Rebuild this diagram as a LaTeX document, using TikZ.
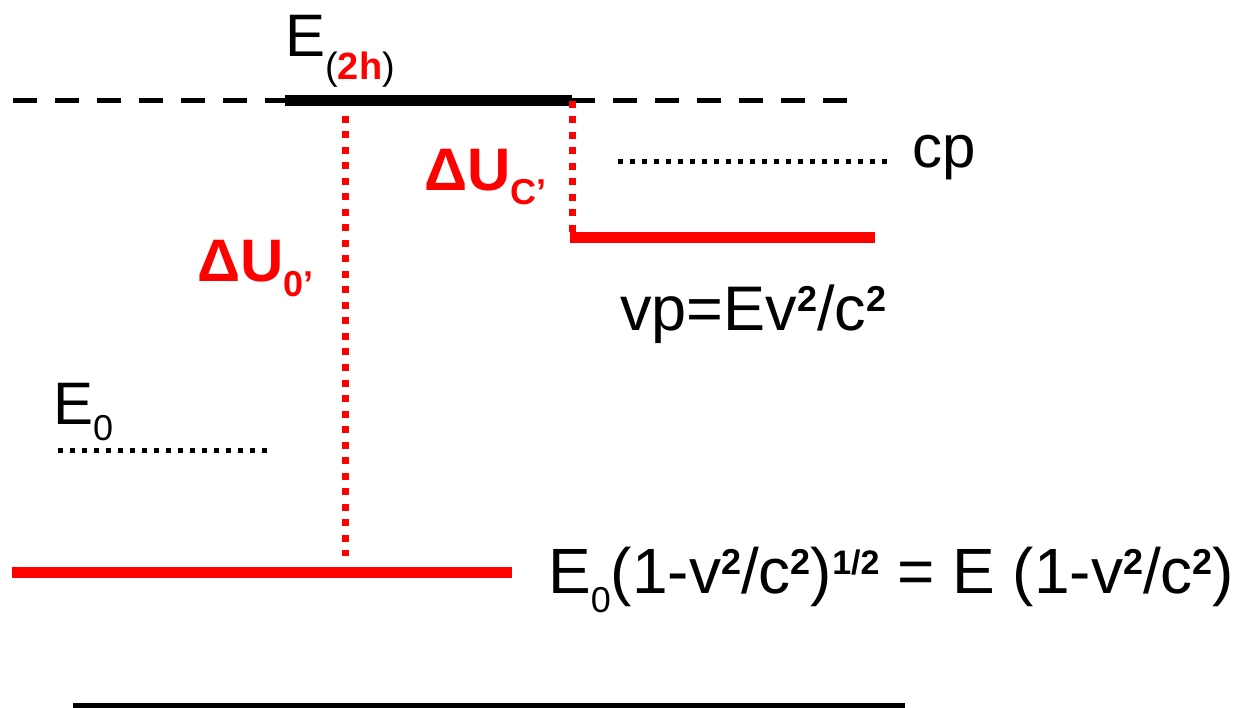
\documentclass[tikz,border=0pt]{standalone}
\usepackage{fontspec}
\setmainfont{Liberation Sans}
\newcommand{\bigfont}{\fontsize{60}{72}\selectfont}
\newcommand{\eqfont}{\fontsize{64}{76}\selectfont}
\newcommand{\subfont}{\fontsize{36}{43}\selectfont}
\newcommand{\sqd}{\raisebox{19pt}{\fontsize{36}{40}\selectfont\bfseries 2}}

\begin{document}
\begin{tikzpicture}[x=1pt, y=-1pt, line cap=butt,
  level/.style={line width=11pt},
  redlevel/.style={level, red},
  redticks/.style={red, line width=7pt, dash pattern=on 7pt off 8.5pt},
  blackdots/.style={line width=5pt, dash pattern=on 5pt off 7pt},
  blackdash/.style={line width=5pt, dash pattern=on 24pt off 18pt},
  lbl/.style={anchor=base west, inner sep=0pt, font=\bigfont},
  redlbl/.style={lbl, text=red, font=\bigfont\bfseries}]

  %% ════ 关键点 ════
  \coordinate (h2a) at (345,116);
  \coordinate (g0a) at (345,556);
  \coordinate (h2b) at (572,101);
  \coordinate (cpb) at (572,232);

  %% ════ 能级线 ════
  \draw[blackdash] (13,101) -- (285,101);
  \draw[blackdash] (571,101) -- (847,101);
  \draw[level] (285,101) -- (572,101);
  \draw[redlevel] (570,238) -- (875,238);
  \draw[redlevel] (12,572) -- (512,572);
  \draw[line width=5pt] (73,705.5) -- (905,705.5);

  %% ════ 点线 ════
  \draw[blackdots] (618,162) -- (888,162);
  \draw[blackdots] (58,450) -- (269,450);
  \draw[redticks] (h2a) -- (g0a);
  \draw[redticks] (h2b) -- (cpb);

  %% ════ 标签 ════
  \node[lbl] (e2h) at (285,57) {E\raisebox{-23pt}{\fontsize{38}{44}\selectfont(\textcolor{red}{\bfseries 2h})}};
  \node[redlbl] (duc) at (424,191) {ΔU\raisebox{-14pt}{\subfont C’}};
  \node[redlbl] (du0) at (197,282) {ΔU\raisebox{-15pt}{\subfont 0’}};
  \node[lbl] (cp) at (912,168) {cp};
  \node[lbl, font=\fontsize{63}{75}\selectfont] (vp) at (620,331) {vp=Ev\sqd/c\sqd};
  \node[lbl] (e0) at (53,424) {E\raisebox{-17pt}{\subfont 0}};
  \node[lbl, font=\eqfont] (eq) at (548,593) {E\raisebox{-19pt}{\subfont 0}(1-v\sqd/c\sqd)\raisebox{19pt}{\fontsize{34}{40}\selectfont\bfseries 1/2} = E (1-v\sqd/c\sqd)};

  % 钉死画布
  \pgfresetboundingbox
  \path[use as bounding box] (0,0) rectangle (1239,708);
\end{tikzpicture}
\end{document}
